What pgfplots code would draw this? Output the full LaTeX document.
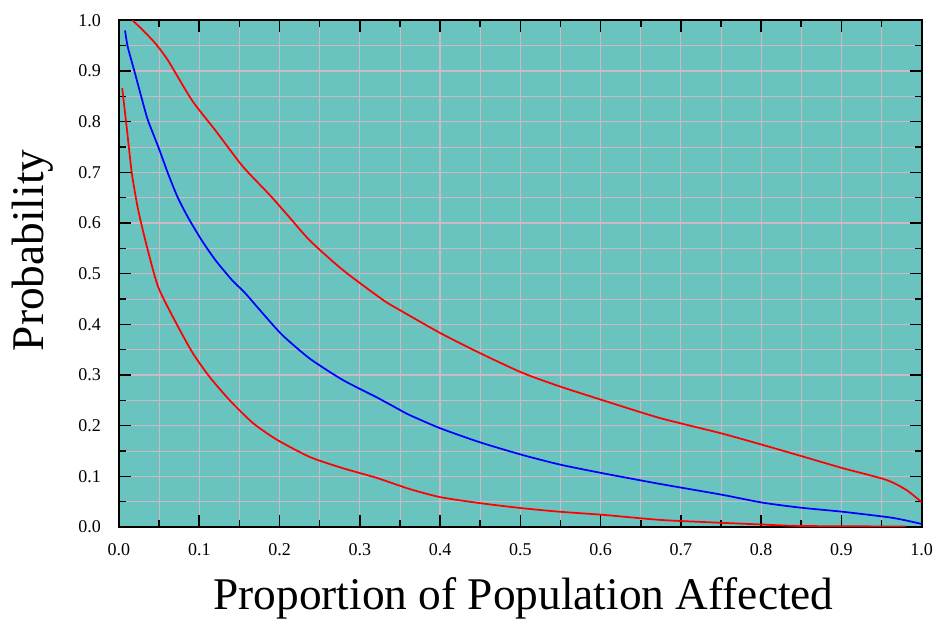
\documentclass[border=0pt]{standalone}
\usepackage{fontspec}
\setmainfont{Liberation Serif}
\usepackage{pgfplots}
\pgfplotsset{compat=1.18}

\definecolor{plotbg}{RGB}{105,195,190}
\definecolor{gridpink}{RGB}{205,185,195}

\begin{document}
\begin{tikzpicture}
\useasboundingbox (-89.25pt,-84pt) rectangle (615.75pt,395.25pt);
\begin{axis}[
  at={(0,0)}, anchor=south west,
  scale only axis,
  width=602pt, height=380pt,
  xmin=0, xmax=1, ymin=0, ymax=1,
  xtick={0,0.1,...,1.0}, ytick={0,0.1,...,1.0},
  minor x tick num=1, minor y tick num=1,
  tick align=inside,
  major tick length=9pt, minor tick length=5pt,
  every tick/.style={black, line width=1.2pt},
  axis line style={black, line width=1.3pt},
  axis background/.style={fill=plotbg},
  grid=both,
  major grid style={gridpink, line width=0.9pt},
  minor grid style={gridpink, line width=0.6pt},
  /pgf/number format/.cd, fixed, fixed zerofill, precision=1, assume math mode=true,
  /pgfplots/.cd,
  ticklabel style={font=\fontsize{13.5}{15}\selectfont},
  yticklabel style={xshift=-10pt},
  xticklabel style={yshift=-9pt},
  xlabel={Proportion of Population Affected},
  ylabel={Probability},
  label style={font=\fontsize{34}{40}\selectfont},
  xlabel style={at={(axis description cs:0.504,-0.14)}, anchor=center},
  ylabel style={at={(axis description cs:-0.107,0.546)}, anchor=center},
]
% upper bound
\addplot[red, line width=1.3pt, smooth, tension=0.4] coordinates {
  (0.017,1.0)(0.03,0.98)(0.045,0.955)(0.061,0.921)(0.091,0.842)(0.12,0.783)
  (0.154,0.712)(0.188,0.655)(0.213,0.61)(0.238,0.565)(0.279,0.507)(0.329,0.448)
  (0.35,0.428)(0.4,0.383)(0.45,0.343)(0.503,0.304)(0.55,0.277)(0.603,0.25)
  (0.674,0.215)(0.75,0.185)(0.802,0.162)(0.85,0.14)(0.902,0.116)(0.956,0.093)
  (0.981,0.073)(1.0,0.049)
};
% median
\addplot[blue, line width=1.3pt, smooth, tension=0.4] coordinates {
  (0.0075,0.98)(0.011,0.947)(0.02,0.895)(0.029,0.842)(0.036,0.803)(0.049,0.75)
  (0.061,0.698)(0.073,0.651)(0.086,0.611)(0.103,0.566)(0.12,0.527)(0.141,0.487)
  (0.157,0.462)(0.18,0.42)(0.204,0.378)(0.238,0.332)(0.279,0.29)(0.321,0.256)
  (0.35,0.231)(0.362,0.221)(0.4,0.195)(0.45,0.167)(0.503,0.142)(0.55,0.123)
  (0.603,0.106)(0.674,0.085)(0.75,0.064)(0.802,0.048)(0.85,0.038)(0.902,0.03)
  (0.964,0.018)(1.0,0.006)
};
% lower bound
\addplot[red, line width=1.3pt, smooth, tension=0.4] coordinates {
  (0.004,0.866)(0.01,0.783)(0.016,0.698)(0.024,0.625)(0.035,0.552)(0.049,0.473)
  (0.072,0.40)(0.092,0.343)(0.113,0.296)(0.138,0.25)(0.167,0.205)(0.197,0.172)
  (0.238,0.138)(0.279,0.116)(0.321,0.097)(0.362,0.075)(0.4,0.059)
  (0.45,0.047)(0.503,0.037)(0.55,0.03)(0.603,0.024)(0.674,0.014)(0.74,0.009)
  (0.8,0.005)(0.85,0.002)(0.98,0.001)
};
\end{axis}
\end{tikzpicture}
\end{document}
